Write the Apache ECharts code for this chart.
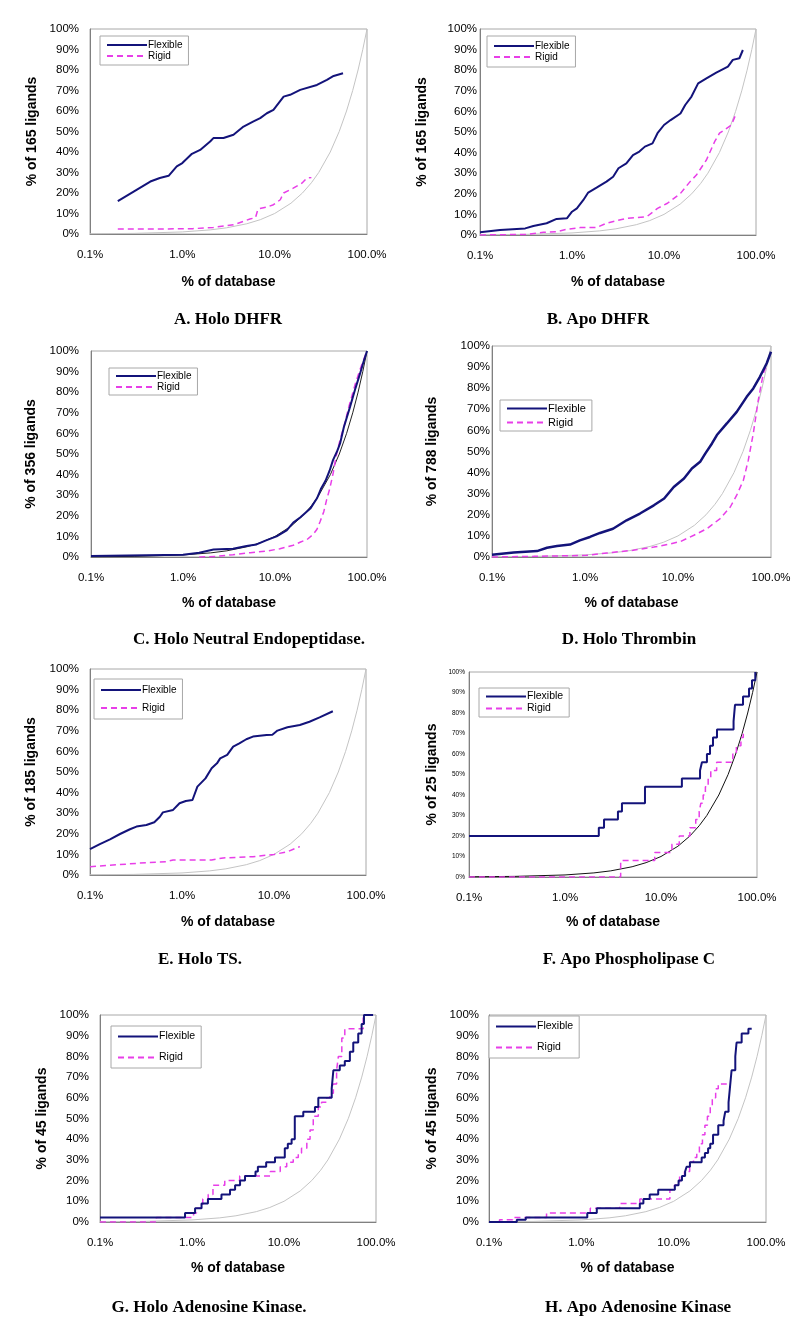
<!DOCTYPE html>
<html>
<head>
<meta charset="utf-8">
<script src="https://cdn.jsdelivr.net/npm/echarts@6/dist/echarts.min.js"></script>
<style>
html,body{margin:0;padding:0;background:#fff;}
#chart{width:800px;height:1339px;}
</style>
</head>
<body>
<div id="chart"></div>
<script>
// ---------- data ----------
const xTickValues = [0.1, 1, 10, 100];
const xTickLabels = ['0.1%', '1.0%', '10.0%', '100.0%'];
const seriesNames = ['Flexible', 'Rigid'];
const panelTitles = ['A. Holo DHFR', 'B. Apo DHFR', 'C. Holo Neutral Endopeptidase.', 'D. Holo Thrombin',
  'E. Holo TS.', 'F. Apo Phospholipase C', 'G. Holo Adenosine Kinase.', 'H. Apo Adenosine Kinase'];
const yAxisNames = ['% of 165 ligands', '% of 165 ligands', '% of 356 ligands', '% of 788 ligands',
  '% of 185 ligands', '% of 25 ligands', '% of 45 ligands', '% of 45 ligands'];
const xAxisName = '% of database';

// random (y = x) reference line
const randomLine = [[0.1,0.1],[0.3,0.3],[1,1],[2,2],[3,3],[5,5],[7,7],[10,10],[15,15],[20,20],[25,25],[30,30],[40,40],[50,50],[60,60],[70,70],[80,80],[90,90],[100,100]];

const flexA = [[0.2,16],[0.3,20.8],[0.45,25.6],[0.57,27.3],[0.71,28.4],[0.87,33],[1.0,34.6],[1.27,39.1],[1.56,41],[2.0,45.1],[2.17,46.8],[2.79,46.8],[3.58,48.4],[4.6,52.4],[5.9,54.9],[6.97,56.5],[8.23,58.9],[9.7,60.6],[12.5,67],[14.7,67.9],[18.9,70.3],[28.7,72.7],[36.8,75.2],[43.5,77.1],[55,78.4]];
const rigidA = [[0.2,2.4],[0.5,2.4],[1.3,2.6],[2.17,3.2],[3.58,4.5],[5.4,7.3],[6.2,8],[6.6,12.2],[8.2,13.1],[9.7,14.3],[11.5,16.7],[12.5,20],[15.9,22.4],[19.7,24.8],[22.3,27.3],[25,27.5]];

const flexB = [[0.1,1.3],[0.165,2.4],[0.31,3.2],[0.38,4.4],[0.53,5.7],[0.68,7.8],[0.88,8.1],[1.0,11.3],[1.13,12.9],[1.33,17],[1.5,20.6],[1.85,23],[2.37,25.9],[2.8,28.3],[3.2,32.4],[3.9,34.8],[4.6,38.8],[5.4,40.5],[6.2,42.9],[7.5,44.5],[8.5,49.4],[10,53.4],[11.8,55.8],[15.1,59],[17,63.1],[19.9,67.2],[23.5,73.6],[28.9,76],[37,78.8],[49.5,81.7],[56,85],[66,85.8],[72,89.8]];
const rigidB = [[0.1,0],[0.32,0.3],[0.49,1.3],[0.68,1.6],[0.88,2.8],[1.23,3.6],[1.85,3.6],[2.37,5.7],[3.9,8.1],[6.5,8.9],[8.5,12.9],[10.9,15.4],[15.1,20.2],[19.2,25.9],[22.5,29.1],[28.9,36.4],[35.5,45.3],[40.1,49.4],[54,53.4],[60,58.3]];

const flexC = [[0.1,0.5],[1.0,1.1],[1.5,2.1],[2.15,3.6],[3.5,4],[4.9,5.3],[6.3,6.1],[8.0,8.1],[10.4,10],[13.4,12.9],[15.8,16.7],[18.9,19.3],[24.2,23.5],[28.6,28.5],[31.5,33],[35.4,37],[39.3,42],[42.7,47],[47.5,51.5],[50.9,55],[56,63],[65.5,73],[75,82],[84,89],[92,95],[100,100]];
const rigidC = [[1.5,0],[2.3,0.3],[3.5,1.1],[5.4,2.1],[8.1,2.9],[11.3,4],[15.8,5.7],[19,7.3],[22.3,8.5],[26,11],[28.6,13.5],[30.8,17],[33.9,22],[36.5,28],[39.3,33],[43,41],[46,48.7],[50.9,56.8],[56,63],[63.4,72.8],[74.7,84.1],[84.6,91.4],[100,100]];

const flexD = [[0.1,1.1],[0.171,2.1],[0.305,2.8],[0.39,4.4],[0.5,5.2],[0.69,5.9],[0.88,7.9],[1.13,9.5],[1.45,11.4],[2.0,13.4],[2.8,17.4],[3.9,20.6],[5.5,24.5],[7.1,27.7],[9.0,33.2],[11.6,37.2],[14.1,41.9],[17.3,45.1],[19.7,49.1],[23.2,53.8],[26.2,57.8],[33.5,63.3],[42.8,68.8],[54.8,75.9],[64.5,79.9],[76,85.4],[90,91.8],[100,97.3]];
const rigidD = [[0.1,0],[0.28,0.3],[0.64,0.6],[1.04,0.8],[1.72,1.9],[3.3,3.2],[5.5,4.7],[7.7,5.9],[10.7,7.4],[14.8,10.3],[20.4,13.4],[28.4,18.2],[36.5,23.7],[42.8,29.3],[50.5,36.4],[57,45.9],[64.5,58.5],[73,74.4],[82.7,87],[90,91]];

const flexE = [[0.1,12.6],[0.128,15],[0.165,17.3],[0.212,19.9],[0.272,22.2],[0.32,23.5],[0.41,24.3],[0.5,25.6],[0.575,28.3],[0.62,30.4],[0.8,31.6],[0.94,34.8],[1.1,35.9],[1.3,36.4],[1.47,42.9],[1.8,46.9],[2.1,51.8],[2.4,54.2],[2.6,56.6],[3.1,58.3],[3.6,62.3],[4.2,63.9],[5.0,65.9],[5.9,67.2],[8.3,68],[9.6,68.1],[10.9,70.1],[14,71.7],[19.1,72.8],[24.3,74.4],[31.3,76.5],[43.6,79.5]];
const rigidE = [[0.1,4],[0.25,5.3],[0.41,6],[0.68,6.5],[0.8,7.3],[2.1,7.3],[2.8,8.3],[5.9,8.9],[10,10],[14,11.3],[19.1,13.8]];

const flexF = [[0.1,20],[2.25,24],[2.55,28],[3.56,32],[3.92,36],[6.81,44],[16.5,48],[25.5,52],[26.7,56],[30.1,60],[32.4,64],[34.8,68],[38.3,72],[57,76],[59,84],[71.5,88],[82.6,92],[88.7,96],[96,100]];
const rigidF = [[0.1,0],[3.8,8],[8.6,12],[13,16],[15.5,20],[20,24],[23,28],[25,32],[26,36],[27.5,40],[29,44],[31,48],[33,52],[38,56],[56,60],[61,64],[68,68],[72,72]];

const flexG = [[0.1,2.2],[0.84,4.4],[1.08,6.7],[1.27,8.9],[1.49,11.1],[2.09,13.3],[2.59,15.6],[2.94,17.8],[3.33,20],[3.77,22.2],[4.9,24.4],[5.2,26.7],[6.4,28.9],[7.98,31.1],[10.2,35.6],[11,37.8],[12.1,40],[13.1,51.1],[16.2,53.3],[21.7,55.6],[23.6,60],[33,64.4],[34.4,73.3],[40.4,75.6],[45.8,77.8],[52,82.2],[56.6,86.7],[64.1,91.1],[69.8,95.6],[74,100],[93,100]];
const rigidG = [[0.1,0],[0.41,2.2],[1.04,4.4],[1.12,6.7],[1.31,11.1],[1.5,13.3],[1.69,17.8],[2.27,20],[3.3,22.2],[7.1,24.4],[9.1,26.7],[10.7,28.9],[12.6,31.1],[14.3,33.3],[15.5,35.6],[17.7,40],[19.2,44.4],[20.8,51.1],[23.6,55.6],[25.6,57.8],[29.1,60],[31.6,62.2],[34.4,66.7],[37.3,73.3],[39,80],[42.5,88.9],[45.8,93.3],[64.1,93.3],[72.6,100]];

const flexH = [[0.1,0],[0.2,1.1],[0.25,2.2],[1.06,2.2],[1.16,4.4],[1.47,6.7],[4.3,8.9],[4.7,11.1],[5.5,13.3],[6.8,15.6],[10.3,17.8],[11.3,20],[12.3,22.2],[13.3,24.4],[13.8,26.7],[15,28.9],[20.1,31.1],[21.8,33.3],[23.6,35.6],[24.9,37.8],[26.7,42.2],[30.4,46.7],[34.7,48.9],[36.2,53.3],[39.3,57.8],[40.6,64.4],[42.4,73.3],[46.5,80],[48,86.7],[54.5,91.1],[64.5,93.3],[70,93.3]];
const rigidH = [[0.1,0],[0.13,1.1],[0.18,2.2],[0.42,4.4],[1.25,6.7],[2.6,8.9],[4.3,11.1],[9.1,15.6],[10.2,17.8],[11.6,22.2],[13.1,24.4],[14.9,28.9],[16.4,31.1],[17.8,33.3],[19,37.8],[20.5,42.2],[21.8,46.7],[23.2,51.1],[24.9,55.6],[26.2,60],[28.5,64.4],[30.4,66.7],[37.6,66.7]];

const flexSets = [flexA, flexB, flexC, flexD, flexE, flexF, flexG, flexH];
const rigidSets = [rigidA, rigidB, rigidC, rigidD, rigidE, rigidF, rigidG, rigidH];

// ---------- layout ----------
const layout = [
  {l:90,  t:29,   r:367, b:234,  yLM:11, yF:11.5, xNG:41, yNG:51, lg:[100,36],  lgGap:1,  lgPad:[4,6], lgF:10, tt:[228,320],  step:false, rc:'#c4c4c4', fw:2},
  {l:480, t:29,   r:756, b:235,  yLM:3,  yF:11.5, xNG:40, yNG:51, lg:[487,36],  lgGap:1,  lgPad:[5,6], lgF:10, tt:[598,320],  step:false, rc:'#c4c4c4', fw:2},
  {l:91,  t:351,  r:367, b:557,  yLM:12, yF:11.5, xNG:39, yNG:53, lg:[109,368], lgGap:1,  lgPad:[3,6], lgF:10, tt:[249,640],  step:false, rc:'#222222', fw:2},
  {l:492, t:346,  r:771, b:557,  yLM:2,  yF:11.5, xNG:39, yNG:53, lg:[500,400], lgGap:3,  lgPad:[3,6], lgF:11, tt:[629,640],  step:false, rc:'#c4c4c4', fw:2.5},
  {l:90,  t:669,  r:366, b:875,  yLM:11, yF:11.5, xNG:40, yNG:52, lg:[94,679],  lgGap:8,  lgPad:[6,6], lgF:10, tt:[200,960],  step:false, rc:'#c4c4c4', fw:2},
  {l:469, t:672,  r:757, b:877,  yLM:4,  yF:6.5,  xNG:38, yNG:30, lg:[479,688], lgGap:1,  lgPad:[3,6], lgF:10.5, tt:[629,960], step:'end', rc:'#111111', fw:2},
  {l:100, t:1015, r:376, b:1222, yLM:11, yF:11.5, xNG:39, yNG:51, lg:[111,1026],lgGap:10, lgPad:[5,6], lgF:10.5, tt:[209,1308],step:'end', rc:'#c4c4c4', fw:2},
  {l:489, t:1015, r:766, b:1222, yLM:10, yF:11.5, xNG:39, yNG:50, lg:[489,1016],lgGap:10, lgPad:[5,6], lgF:10.5, tt:[638,1308],step:'end', rc:'#c4c4c4', fw:2}
];

const SANS = 'Liberation Sans, Arial, sans-serif';
const SERIF = 'Liberation Serif, Times New Roman, serif';
const FLEX_COLOR = '#13137a';
const RIGID_COLOR = '#e83ee8';

function xFmt(v) {
  for (let i = 0; i < xTickValues.length; i++) {
    if (Math.abs(Math.log10(v) - Math.log10(xTickValues[i])) < 1e-6) return xTickLabels[i];
  }
  return '';
}

const grid = [], xAxis = [], yAxis = [], series = [], legend = [], graphic = [];
layout.forEach((p, i) => {
  grid.push({left: p.l, top: p.t, width: p.r - p.l, height: p.b - p.t, show: true,
    borderColor: '#a8a8a8', borderWidth: 1, backgroundColor: '#fff', containLabel: false});
  xAxis.push({gridIndex: i, type: 'log', logBase: 10, min: 0.1, max: 100,
    name: xAxisName, nameLocation: 'middle', nameGap: p.xNG,
    nameTextStyle: {fontFamily: SANS, fontWeight: 'bold', fontSize: 14, color: '#000'},
    axisLine: {show: true, lineStyle: {color: '#808080', width: 1}},
    axisTick: {show: false}, minorTick: {show: false},
    splitLine: {show: false},
    axisLabel: {formatter: xFmt, fontFamily: SANS, fontSize: 11.5, color: '#000', margin: 15,
      showMinLabel: true, showMaxLabel: true}});
  yAxis.push({gridIndex: i, type: 'value', min: 0, max: 100, interval: 10,
    name: yAxisNames[i], nameLocation: 'middle', nameGap: p.yNG, nameRotate: 90,
    nameTextStyle: {fontFamily: SANS, fontWeight: 'bold', fontSize: 14, color: '#000'},
    axisLine: {show: true, lineStyle: {color: '#808080', width: 1}},
    axisTick: {show: false}, splitLine: {show: false},
    axisLabel: {formatter: '{value}%', fontFamily: SANS, fontSize: p.yF, color: '#000', margin: p.yLM}});
  series.push({type: 'line', name: 'random', xAxisIndex: i, yAxisIndex: i, data: randomLine,
    symbol: 'none', silent: true, z: 1, lineStyle: {color: p.rc, width: 1}});
  series.push({type: 'line', name: seriesNames[0], xAxisIndex: i, yAxisIndex: i, data: flexSets[i],
    symbol: 'none', showSymbol: false, step: p.step, z: 3, color: FLEX_COLOR, lineStyle: {color: FLEX_COLOR, width: p.fw}});
  series.push({type: 'line', name: seriesNames[1], xAxisIndex: i, yAxisIndex: i, data: rigidSets[i],
    symbol: 'none', showSymbol: false, step: p.step, z: 2, color: RIGID_COLOR, lineStyle: {color: RIGID_COLOR, width: 1.5, type: [6, 4]}});
  legend.push({data: seriesNames, orient: 'vertical', left: p.lg[0], top: p.lg[1],
    itemWidth: 40, itemHeight: 10, itemGap: p.lgGap, padding: p.lgPad,
    itemStyle: {opacity: 0},
    lineStyle: {opacity: 1},
    borderColor: '#a8a8a8', borderWidth: 1, backgroundColor: '#fff', selectedMode: false,
    textStyle: {fontFamily: SANS, fontSize: p.lgF, color: '#000', lineHeight: 10, padding: [0, 0, 0, -4]}});
  graphic.push({type: 'text', x: p.tt[0], y: p.tt[1],
    style: {text: panelTitles[i], font: 'bold 17px ' + SERIF, fill: '#000', textAlign: 'center', textVerticalAlign: 'middle'}});
});

const chart = echarts.init(document.getElementById('chart'), null, {renderer: 'canvas'});
chart.setOption({animation: false, backgroundColor: '#fff', grid, xAxis, yAxis, series, legend, graphic});
</script>
</body>
</html>
